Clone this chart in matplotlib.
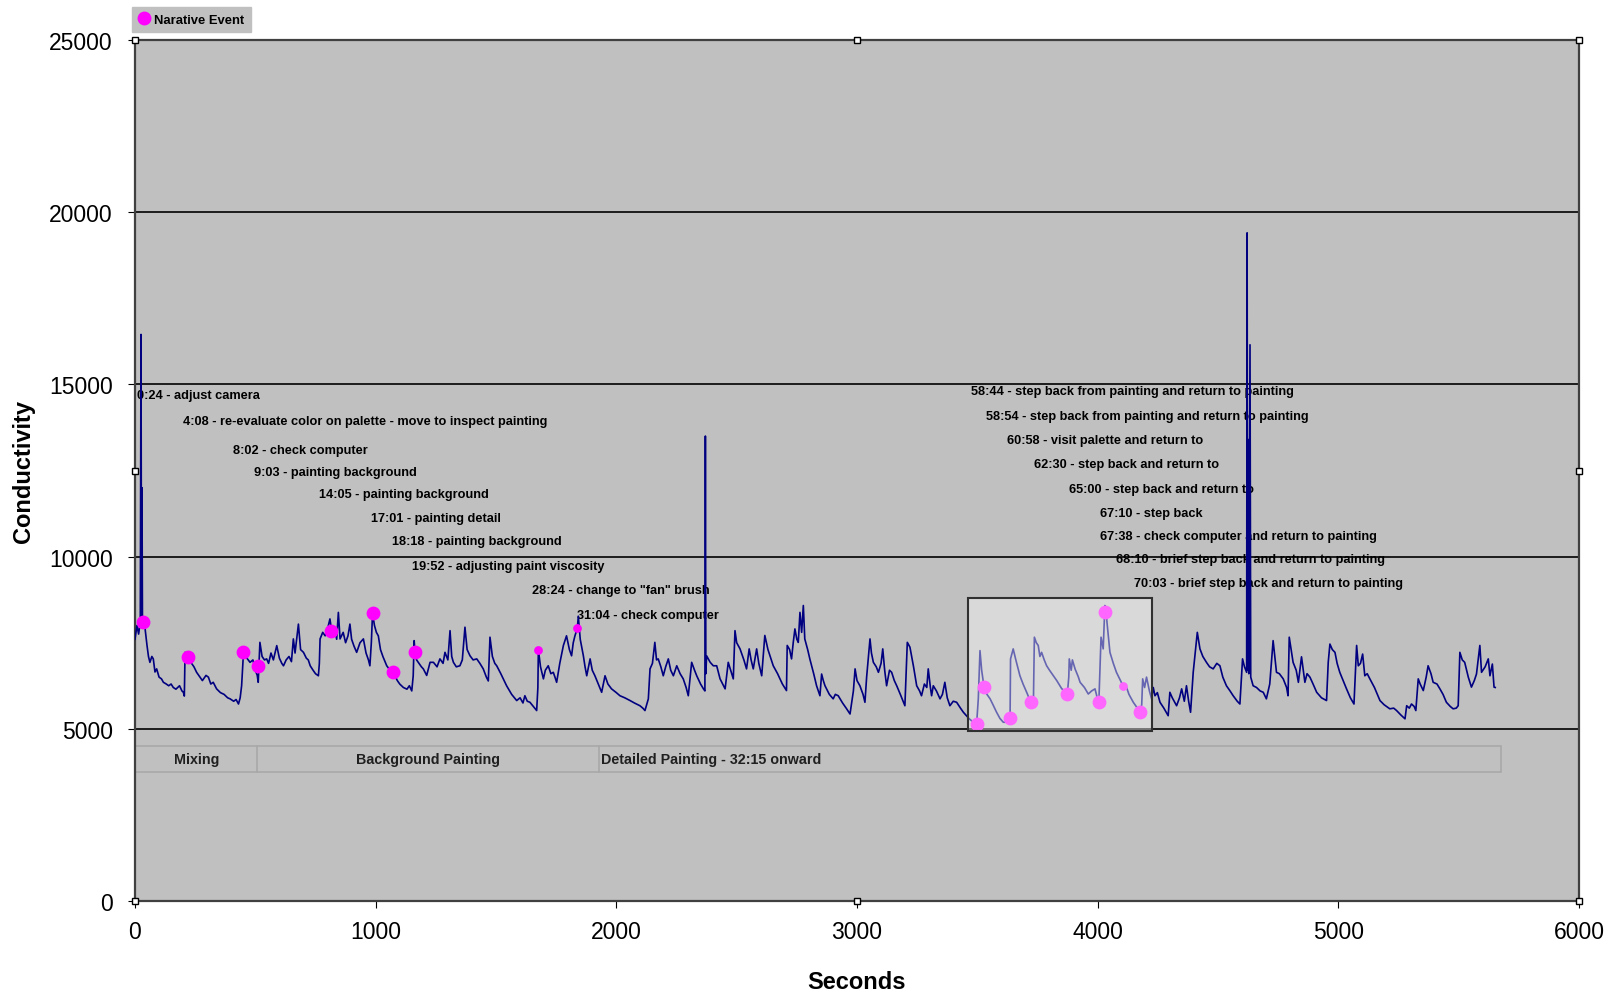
import matplotlib
matplotlib.use("Agg")
import matplotlib.pyplot as plt
from matplotlib.patches import Rectangle
from matplotlib.lines import Line2D

plt.rcParams['font.family'] = ['Liberation Sans', 'DejaVu Sans']

# conductivity trace (seconds, value)
trace_points = [
    (0, 7600), (8, 8000), (15, 7750), (22, 8100), (25, 16450), (27, 8050), (29, 12000), (31, 8150),
    (35, 8100), (42, 7900), (50, 7415), (56, 7100), (62, 6930), (70, 7100), (76, 7030), (83, 6650),
    (90, 6740), (100, 6500), (110, 6450), (118, 6350), (130, 6300), (140, 6250), (150, 6300),
    (159, 6200), (170, 6150), (185, 6250), (195, 6100), (201, 6060), (205, 5950), (208, 7220),
    (215, 7150), (222, 7080), (235, 6900), (245, 6800), (256, 6640), (270, 6500), (280, 6400),
    (295, 6550), (305, 6500), (315, 6300), (325, 6350), (339, 6160), (355, 6050), (370, 6000),
    (385, 5900), (395, 5870), (410, 5800), (420, 5850), (430, 5720), (437, 5900), (443, 6250),
    (450, 7120), (455, 7300), (465, 7050), (478, 6930), (490, 7000), (500, 6700), (508, 6550),
    (512, 6350), (519, 7510), (528, 7100), (538, 7000), (547, 7030), (555, 6900), (565, 7200),
    (575, 7000), (589, 7415), (600, 7050), (610, 6900), (617, 6830), (628, 7000), (640, 7100),
    (650, 6950), (658, 7610), (665, 7200), (679, 8040), (688, 7300), (700, 7220), (712, 7050),
    (720, 7000), (728, 6830), (740, 6700), (750, 6600), (762, 6540), (766, 6900), (769, 7610),
    (780, 7800), (790, 7700), (800, 7900), (810, 8190), (818, 7800), (830, 7900), (838, 7600),
    (845, 8380), (852, 7610), (865, 7800), (875, 7500), (885, 7700), (893, 8040), (900, 7600),
    (910, 7400), (921, 7220), (935, 7500), (949, 7610), (960, 7200), (970, 7000), (976, 6830),
    (982, 7500), (987, 8350), (995, 8000), (1003, 7800), (1011, 7700), (1020, 7300), (1030, 7100),
    (1046, 6830), (1060, 6700), (1073, 6640), (1090, 6400), (1100, 6300), (1115, 6200),
    (1130, 6150), (1140, 6250), (1150, 6100), (1156, 6540), (1160, 7560), (1163, 7250),
    (1170, 7000), (1180, 6900), (1190, 6800), (1198, 6740), (1212, 6550), (1226, 6930),
    (1240, 6930), (1255, 6800), (1267, 7030), (1280, 6900), (1288, 7220), (1300, 7000),
    (1309, 7850), (1316, 7100), (1323, 6930), (1335, 6800), (1350, 6830), (1360, 7000),
    (1371, 7950), (1380, 7300), (1392, 7120), (1405, 7000), (1420, 7030), (1433, 6900),
    (1447, 6740), (1460, 6500), (1468, 6390), (1475, 7660), (1485, 7100), (1495, 6900),
    (1503, 6830), (1520, 6600), (1544, 6250), (1565, 6000), (1586, 5820), (1600, 5900),
    (1612, 5750), (1620, 5960), (1630, 5800), (1641, 5770), (1655, 5650), (1669, 5530),
    (1674, 6200), (1676, 7300), (1685, 6800), (1697, 6450), (1705, 6700), (1717, 6830),
    (1728, 6600), (1738, 6640), (1745, 6500), (1752, 6350), (1765, 6900), (1780, 7420),
    (1793, 7700), (1805, 7300), (1814, 7120), (1821, 7500), (1828, 7700), (1838, 7920),
    (1842, 8270), (1850, 7600), (1863, 7120), (1870, 6800), (1877, 6540), (1891, 7030),
    (1900, 6700), (1911, 6540), (1925, 6300), (1939, 6060), (1953, 6540), (1965, 6300),
    (1980, 6160), (2000, 6050), (2015, 5960), (2035, 5900), (2057, 5820), (2075, 5750),
    (2098, 5670), (2110, 5600), (2119, 5530), (2133, 5870), (2140, 6740), (2150, 6900),
    (2160, 7510), (2167, 7000), (2174, 7030), (2185, 6800), (2195, 6540), (2205, 6800),
    (2216, 7030), (2226, 6700), (2237, 6540), (2251, 6830), (2265, 6600), (2278, 6450),
    (2290, 6200), (2299, 5960), (2313, 6930), (2325, 6700), (2334, 6540), (2350, 6300),
    (2362, 6160), (2368, 6100), (2370, 13500), (2372, 6600), (2375, 7120), (2390, 6930),
    (2403, 6830), (2417, 6830), (2431, 6450), (2452, 6160), (2465, 6930), (2475, 6700),
    (2486, 6450), (2493, 7850), (2500, 7500), (2514, 7320), (2530, 7000), (2541, 6740),
    (2552, 7320), (2560, 7000), (2569, 6740), (2583, 7320), (2592, 6900), (2604, 6540),
    (2617, 7710), (2630, 7300), (2652, 6830), (2670, 6600), (2690, 6300), (2707, 6110),
    (2710, 7420), (2720, 7300), (2728, 7030), (2735, 7500), (2742, 7900), (2750, 7600),
    (2756, 7510), (2763, 8380), (2770, 7800), (2777, 8580), (2783, 7610), (2795, 7300),
    (2804, 7030), (2820, 6600), (2832, 6250), (2846, 5960), (2853, 6590), (2860, 6400),
    (2867, 6250), (2885, 6000), (2901, 5870), (2910, 6000), (2922, 5960), (2940, 5750),
    (2955, 5600), (2971, 5430), (2985, 6100), (2992, 6740), (3000, 6400), (3012, 6250),
    (3025, 6000), (3033, 5770), (3040, 6500), (3054, 7610), (3060, 7200), (3068, 6930),
    (3080, 6800), (3089, 6640), (3100, 6900), (3107, 7320), (3115, 6700), (3123, 6250),
    (3135, 6700), (3144, 6640), (3155, 6400), (3165, 6250), (3180, 6000), (3199, 5670),
    (3209, 7510), (3220, 7370), (3235, 6800), (3248, 6250), (3260, 6100), (3268, 5960),
    (3280, 6300), (3290, 6200), (3296, 6740), (3305, 6200), (3310, 5960), (3317, 6250),
    (3330, 6100), (3345, 5870), (3355, 6000), (3365, 6350), (3375, 5900), (3386, 5670),
    (3400, 5800), (3414, 5770), (3430, 5600), (3442, 5480), (3465, 5300), (3483, 5190),
    (3497, 5140), (3504, 5870), (3511, 7270), (3518, 6700), (3528, 6210), (3540, 6000),
    (3553, 5870), (3565, 5700), (3580, 5480), (3594, 5300), (3608, 5190), (3615, 5190),
    (3630, 5250), (3636, 5310), (3638, 7030), (3649, 7320), (3660, 7000), (3677, 6540),
    (3690, 6300), (3705, 6060), (3721, 5790), (3733, 5770), (3737, 7660), (3745, 7500),
    (3753, 7420), (3760, 7100), (3767, 7220), (3778, 7000), (3788, 6830), (3800, 6700),
    (3816, 6540), (3830, 6400), (3851, 6160), (3865, 6100), (3874, 6010), (3880, 6500),
    (3882, 7030), (3890, 6700), (3895, 7000), (3906, 6740), (3920, 6500), (3927, 6350),
    (3945, 6200), (3961, 6010), (3975, 6100), (3989, 6160), (4000, 5850), (4005, 5790),
    (4014, 7660), (4023, 7320), (4030, 8580), (4035, 8380), (4040, 8000), (4051, 7220),
    (4065, 6900), (4078, 6640), (4095, 6400), (4106, 6240), (4115, 6300), (4130, 6000),
    (4148, 5770), (4165, 5600), (4176, 5480), (4183, 5700), (4187, 6450), (4195, 6200),
    (4203, 6500), (4215, 6100), (4224, 5870), (4231, 6200), (4238, 5960), (4248, 6050),
    (4259, 5770), (4275, 5600), (4293, 5380), (4300, 6060), (4310, 5900), (4328, 5670),
    (4340, 5900), (4349, 6160), (4360, 5800), (4369, 6250), (4378, 5800), (4386, 5480),
    (4397, 6640), (4405, 7200), (4414, 7800), (4425, 7320), (4437, 7100), (4452, 6930),
    (4465, 6800), (4480, 6740), (4495, 6900), (4508, 6830), (4520, 6500), (4535, 6250),
    (4550, 6100), (4563, 5960), (4580, 5800), (4591, 5720), (4602, 7030), (4610, 6800),
    (4619, 6640), (4621, 19400), (4623, 6700), (4625, 13400), (4628, 6600), (4633, 16150),
    (4636, 6500), (4646, 6250), (4660, 6200), (4675, 6100), (4688, 6060), (4701, 5870),
    (4715, 6300), (4729, 7560), (4743, 6640), (4755, 6600), (4771, 6450), (4785, 6200),
    (4791, 5960), (4796, 7660), (4812, 6930), (4825, 6700), (4834, 6350), (4847, 7090),
    (4861, 6350), (4870, 6600), (4882, 6500), (4895, 6300), (4910, 6060), (4930, 5900),
    (4951, 5820), (4958, 6930), (4965, 7460), (4975, 7300), (4986, 7220), (4995, 6900),
    (5006, 6640), (5020, 6400), (5034, 6160), (5050, 5900), (5065, 5720), (5076, 7420),
    (5083, 6830), (5092, 6900), (5101, 7170), (5110, 6540), (5120, 6600), (5131, 6450),
    (5150, 6200), (5173, 5820), (5190, 5700), (5214, 5580), (5230, 5600), (5242, 5530),
    (5260, 5400), (5277, 5290), (5284, 5670), (5295, 5600), (5304, 5720), (5315, 5650),
    (5322, 5530), (5332, 6450), (5340, 6300), (5353, 6110), (5365, 6500), (5373, 6830),
    (5385, 6600), (5394, 6350), (5410, 6300), (5422, 6160), (5435, 6000), (5449, 5770),
    (5465, 5650), (5477, 5580), (5490, 5600), (5498, 5670), (5505, 7220), (5515, 7000),
    (5525, 6930), (5540, 6500), (5553, 6210), (5565, 6400), (5574, 6590), (5588, 7420),
    (5595, 6640), (5610, 6800), (5623, 7030), (5630, 6540), (5640, 6880), (5644, 6500),
    (5647, 6210), (5652, 6200),
]
seconds = [p[0] for p in trace_points]
conductivity = [p[1] for p in trace_points]

# narrative events
event_t = [35, 222, 450, 512, 814, 988, 1073, 1163, 3497, 3528, 3636, 3721, 3874, 4005, 4030, 4176]
event_v = [8090, 7080, 7240, 6820, 7850, 8350, 6640, 7240, 5140, 6210, 5310, 5790, 6010, 5790, 8380, 5480]
minor_event_t = [1676, 1838, 4106]
minor_event_v = [7300, 7920, 6240]

left_notes = [
    "0:24 - adjust camera",
    "4:08 - re-evaluate color on palette - move to inspect painting",
    "8:02 - check computer",
    "9:03 - painting background",
    "14:05 - painting background",
    "17:01 - painting detail",
    "18:18 - painting background",
    "19:52 - adjusting paint viscosity",
    "28:24 - change to \"fan\" brush",
    "31:04 - check computer",
]
right_notes = [
    "58:44 - step back from painting and return to painting",
    "58:54 - step back from painting and return to painting",
    "60:58 - visit palette and return to",
    "62:30 - step back and return to",
    "65:00 - step back and return to",
    "67:10 - step back",
    "67:38 - check computer and return to painting",
    "68:10 - brief step back and return to painting",
    "70:03 - brief step back and return to painting",
]

phases = ["Mixing", "Background Painting", "Detailed Painting - 32:15 onward"]
phase_edges = [0, 509, 1930, 5674]

fig = plt.figure(figsize=(16.15, 9.95), dpi=100)
ax = fig.add_axes([135 / 1615, 93 / 995, 1444 / 1615, 861 / 995])
ax.set_facecolor('#C0C0C0')
ax.set_xlim(0, 6000)
ax.set_ylim(0, 25000)
ax.set_xticks(range(0, 6001, 1000))
ax.set_yticks(range(0, 25001, 5000))
ax.yaxis.grid(True, color='black', linewidth=1.2, zorder=1)
ax.set_axisbelow(True)
for s in ax.spines.values():
    s.set_color('#404040')
    s.set_linestyle((0, (1, 1)))
    s.set_linewidth(1.6)
ax.tick_params(labelsize=16.5, length=5, direction='out')
ax.tick_params(axis='x', pad=9)
ax.tick_params(axis='y', pad=11)

ax.plot(seconds, conductivity, color='#000080', linewidth=1.2, zorder=3)
ax.scatter(event_t, event_v, s=80, color='#FF00FF', zorder=4, label='Narative Event')
ax.scatter(minor_event_t, minor_event_v, s=28, color='#FF00FF', zorder=4)

# highlighted window (semi-transparent overlay)
ax.add_patch(Rectangle((3462, 4946), 4224 - 3462, 8790 - 4946,
                       facecolor=(1, 1, 1, 0.4), edgecolor='#303030', linewidth=1.5, zorder=5))

# phase band
ax.add_patch(Rectangle((phase_edges[0], 3750), phase_edges[-1] - phase_edges[0], 750,
                       facecolor='#C0C0C0', edgecolor='#A8A8A8', linewidth=1.2, zorder=2))
for e in phase_edges[1:-1]:
    ax.plot([e, e], [3750, 4500], color='#A8A8A8', linewidth=1.2, zorder=2)
ax.text((phase_edges[0] + phase_edges[1]) / 2, 4125, phases[0], ha='center', va='center',
        fontsize=10.3, fontweight='bold', color='#202020', zorder=6)
ax.text((phase_edges[1] + phase_edges[2]) / 2, 4125, phases[1], ha='center', va='center',
        fontsize=10.3, fontweight='bold', color='#202020', zorder=6)
ax.text(phase_edges[2] + 8, 4125, phases[2], ha='left', va='center',
        fontsize=10.3, fontweight='bold', color='#202020', zorder=6)

left_x = [9, 201, 407, 496, 766, 980, 1066, 1151, 1648, 1836]
left_y = [14683, 13935, 13098, 12470, 11812, 11124, 10466, 9719, 9031, 8313]
right_x = [3475, 3535, 3625, 3736, 3882, 4010, 4010, 4078, 4151]
right_y = [14802, 14085, 13397, 12679, 11962, 11274, 10586, 9928, 9240]
for txt, x, y in zip(left_notes, left_x, left_y):
    ax.text(x, y, txt, fontsize=9.2, fontweight='bold', ha='left', va='center', zorder=2.5)
for txt, x, y in zip(right_notes, right_x, right_y):
    ax.text(x, y, txt, fontsize=9.2, fontweight='bold', ha='left', va='center', zorder=2.5)

# selection handles on the plot area
hx = [0, 3000, 6000, 0, 6000, 0, 3000, 6000]
hy = [25000, 25000, 25000, 12500, 12500, 0, 0, 0]
ax.plot(hx, hy, linestyle='none', marker='s', markersize=4, mfc='white', mec='black',
        mew=1, clip_on=False, zorder=7)

ax.set_xlabel('Seconds', fontsize=17, fontweight='bold', labelpad=19)
ax.set_ylabel('Conductivity', fontsize=17, fontweight='bold', labelpad=10)

handle = Line2D([], [], linestyle='none', marker='o', markersize=9, color='#FF00FF')
leg = fig.legend([handle], ['Narative Event'], loc='upper left',
                 bbox_to_anchor=(132 / 1615, 1 - 8 / 995), frameon=True, fancybox=False,
                 prop={'size': 9.4, 'weight': 'bold'}, handlelength=0.8, handletextpad=0.4,
                 borderpad=0.5, borderaxespad=0)
leg.get_frame().set_facecolor('#C0C0C0')
leg.get_frame().set_edgecolor('#C0C0C0')
leg.get_frame().set_alpha(1)

fig.savefig('out.png', dpi=100)
